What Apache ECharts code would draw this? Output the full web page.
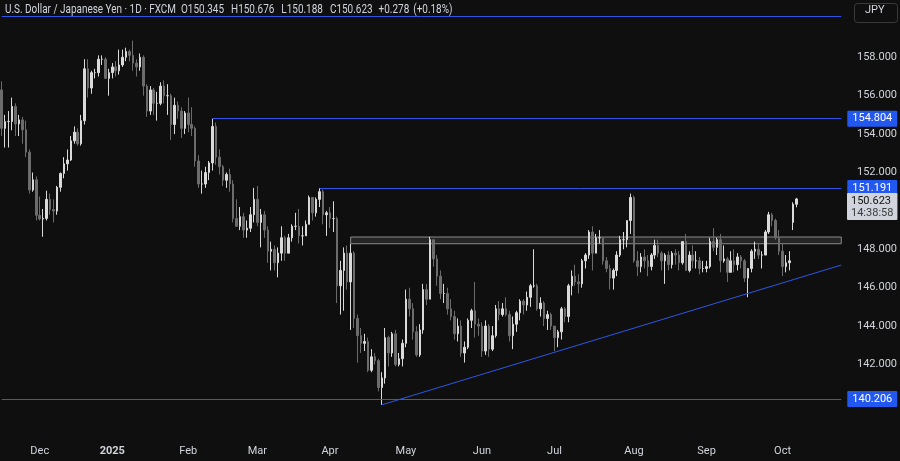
<!DOCTYPE html>
<html><head><meta charset="utf-8">
<script src="https://cdn.jsdelivr.net/npm/echarts@6/dist/echarts.min.js"></script>
<style>html,body{margin:0;padding:0;background:#0f0f0f;}#c{width:900px;height:461px;}</style>
</head><body><div id="c"></div>
<script>
// ---- data ----
const startDate = '2024-11-15';
const holidays = ['2024-12-25', '2025-01-01'];
const futureSlots = 13;
const monthNames = ['Jan','Feb','Mar','Apr','May','Jun','Jul','Aug','Sep','Oct','Nov','Dec'];
const priceTicks = [142, 144, 146, 148, 150, 152, 154, 156, 158];

const opens = [
 156.30,154.30,154.65,154.66,155.44,154.53,154.74,154.22,153.06,151.09,151.62,
 149.77,149.58,149.61,150.60,150.07,149.99,151.23,151.95,152.45,152.65,153.65,154.10,153.50,154.70,157.40,156.40,157.20,157.20,157.90,157.90,156.90,
 157.20,157.50,157.30,157.60,158.00,158.30,158.10,157.70,157.50,158.00,156.50,155.20,156.30,155.60,155.60,156.50,156.00,156.00,154.50,155.50,155.20,154.30,
 155.10,154.50,154.30,152.60,151.40,151.40,152.00,152.50,154.40,152.80,152.30,151.60,151.90,151.40,149.60,149.20,149.70,149.00,149.10,149.80,
 150.60,149.40,149.80,149.00,147.90,148.00,147.30,147.80,148.60,147.80,148.60,149.20,149.20,148.70,148.70,149.30,150.70,149.90,150.60,151.00,149.80,
 149.90,149.60,149.60,146.10,146.90,147.80,146.30,147.80,144.40,143.50,143.10,143.20,141.70,142.40,142.20,140.80,141.30,143.40,142.60,143.60,142.00,142.30,
 143.10,145.40,144.90,143.70,142.50,143.80,145.90,145.40,148.50,147.50,146.60,145.70,145.70,144.90,144.50,143.60,144.00,142.60,142.90,144.30,144.80,144.10,
 144.00,142.70,144.00,142.80,143.50,144.90,144.60,144.90,144.60,143.50,144.10,144.70,145.30,145.10,145.50,146.10,146.10,144.90,145.20,144.40,144.60,
 144.00,143.40,143.70,144.90,144.50,146.10,146.60,146.30,146.20,147.40,147.70,148.90,147.80,148.60,148.60,147.40,147.00,146.50,146.90,147.70,148.50,148.50,149.50,
 150.70,147.40,147.10,147.60,147.40,147.10,147.70,148.20,147.80,147.40,147.70,147.20,147.80,147.70,147.30,148.40,146.90,147.70,147.40,147.40,147.00,
 147.00,147.10,148.40,148.10,148.50,147.40,147.50,146.80,147.40,147.20,147.60,147.40,146.50,147.00,147.90,148.00,147.70,147.70,148.90,149.80,149.50,148.60,
 147.90,147.10,147.30,149.40,150.345
];
const highs = [
 156.75,155.00,155.20,155.90,155.60,155.00,154.90,154.70,153.20,152.00,151.80,
 150.75,150.10,151.05,150.90,150.60,151.30,152.00,152.80,153.20,153.90,154.40,154.30,155.00,157.90,157.90,157.30,157.40,158.10,158.10,158.00,157.40,
 157.70,157.80,158.40,158.40,158.50,158.40,158.87,157.90,158.20,158.10,156.60,156.50,156.40,156.20,156.70,156.80,156.60,156.10,155.90,155.70,155.40,155.20,
 155.90,155.40,154.40,152.90,152.10,152.30,152.60,154.80,154.60,153.20,152.40,152.00,152.20,151.60,150.60,150.20,149.90,149.50,150.20,151.20,
 151.30,150.10,150.00,149.20,148.40,148.20,148.10,149.20,148.70,148.80,149.30,149.90,150.10,149.20,149.50,150.80,150.70,150.70,151.19,151.10,150.00,
 150.20,150.50,149.70,147.40,148.10,148.20,148.28,147.90,144.60,143.90,143.60,143.40,142.80,142.60,142.30,141.60,143.90,143.50,143.70,143.80,142.60,143.30,
 145.90,146.00,145.20,144.00,144.10,146.20,146.20,148.65,148.50,147.70,146.90,146.20,146.00,145.40,144.80,144.40,144.30,143.20,144.40,144.90,146.30,144.40,
 144.20,144.30,144.10,144.00,145.10,145.30,145.20,145.50,144.80,144.50,144.80,145.40,145.40,145.80,146.20,148.00,146.20,145.50,145.30,144.80,144.70,
 144.00,143.80,145.00,145.00,146.20,146.90,147.20,146.70,147.50,147.80,149.00,149.20,148.80,149.00,148.60,147.60,147.20,147.00,147.90,148.70,148.90,149.50,150.90,
 150.80,147.90,147.80,148.00,147.70,147.80,148.50,148.50,147.90,147.80,147.90,147.90,148.00,147.90,148.40,148.80,147.90,148.20,147.90,147.60,147.40,
 147.40,148.60,149.10,148.60,148.80,148.20,147.60,147.90,148.00,147.80,147.70,147.50,147.00,148.00,148.40,148.30,147.90,149.00,149.95,149.90,149.60,149.00,
 148.30,147.70,147.90,150.45,150.676
];
const lows = [
 153.90,153.30,153.30,154.20,153.90,153.90,153.50,152.80,150.90,151.00,149.50,
 149.50,148.65,149.50,149.80,149.40,149.80,151.00,151.70,152.10,152.60,153.50,153.40,153.40,154.50,155.90,156.10,156.90,157.00,157.60,156.90,156.00,
 156.90,157.00,157.10,157.50,157.80,157.80,157.30,157.00,157.30,156.00,154.90,155.00,155.00,154.70,155.50,155.60,155.00,153.70,154.00,154.80,153.80,154.00,
 154.10,153.90,152.30,151.20,150.90,151.20,151.60,152.10,152.40,151.90,151.30,151.20,151.00,149.40,149.20,149.00,148.60,148.60,148.90,149.40,
 149.20,148.10,148.60,147.30,146.90,146.90,146.54,147.40,147.40,147.80,148.40,149.00,148.30,148.20,148.70,149.30,149.50,149.70,150.20,149.30,148.70,
 149.10,148.90,145.20,144.60,144.80,145.90,143.80,143.90,142.10,142.60,142.70,141.60,141.60,142.00,140.60,139.90,141.00,141.90,142.40,141.90,141.90,141.90,
 142.90,144.50,143.30,142.40,142.40,143.60,145.10,145.40,147.10,146.10,145.40,145.20,144.60,144.30,143.30,143.20,142.40,142.10,142.80,143.90,143.40,143.50,
 142.40,142.50,142.40,142.70,143.40,144.30,144.50,144.50,143.20,142.80,143.70,144.30,144.60,144.80,145.00,146.00,144.80,144.50,144.00,143.80,143.80,
 142.70,142.90,143.30,144.20,144.20,145.60,146.10,145.70,146.00,147.00,147.50,146.90,147.80,148.30,147.20,146.80,145.90,145.90,146.60,147.60,148.00,148.10,148.80,
 147.30,146.60,146.80,147.00,146.60,146.90,147.50,147.60,146.90,146.20,146.90,147.00,147.20,146.90,147.20,146.90,146.80,147.00,147.00,146.70,146.80,
 146.80,147.00,147.90,147.70,146.80,147.30,146.30,146.80,146.80,146.90,147.00,146.30,145.50,146.80,147.50,147.50,147.00,147.70,148.80,149.20,148.50,147.70,
 146.60,146.80,146.90,149.00,150.188
];
const closes = [
 154.30,154.65,154.66,155.44,154.53,154.74,154.22,153.06,151.09,151.62,149.77,
 149.58,149.61,150.60,150.07,149.99,151.23,151.95,152.45,152.65,153.65,154.10,153.50,154.70,157.40,156.40,157.20,157.20,157.90,157.90,156.90,157.20,
 157.50,157.30,157.60,158.00,158.30,158.10,157.70,157.50,158.00,156.50,155.20,156.30,155.60,155.60,156.50,156.00,156.00,154.50,155.50,155.20,154.30,155.10,
 154.50,154.30,152.60,151.40,151.40,152.00,152.50,154.40,152.80,152.30,151.60,151.90,151.40,149.60,149.20,149.70,149.00,149.10,149.80,150.60,
 149.40,149.80,149.00,147.90,148.00,147.30,147.80,148.60,147.80,148.60,149.20,149.20,148.70,148.70,149.30,150.70,149.90,150.60,151.00,149.80,149.90,
 149.60,149.60,146.10,146.90,147.80,146.30,147.80,144.40,143.50,143.10,143.20,141.70,142.40,142.20,140.80,141.30,143.40,142.60,143.60,142.00,142.30,143.10,
 145.40,144.90,143.70,142.50,143.80,145.90,145.40,148.50,147.50,146.60,145.70,145.70,144.90,144.50,143.60,144.00,142.60,142.90,144.30,144.80,144.10,144.00,
 142.70,144.00,142.80,143.50,144.90,144.60,144.90,144.60,143.50,144.10,144.70,145.30,145.10,145.50,146.10,146.10,144.90,145.20,144.40,144.60,144.00,
 143.40,143.70,144.90,144.50,146.10,146.60,146.30,146.20,147.40,147.70,148.90,147.80,148.60,148.60,147.40,147.00,146.50,146.90,147.70,148.50,148.50,149.50,150.70,
 147.40,147.10,147.60,147.40,147.10,147.70,148.20,147.80,147.40,147.70,147.20,147.80,147.70,147.30,148.40,146.90,147.70,147.40,147.40,147.00,147.00,
 147.10,148.40,148.10,148.50,147.40,147.50,146.80,147.40,147.20,147.60,147.40,146.50,147.00,147.90,148.00,147.70,147.70,148.90,149.80,149.50,148.60,147.90,
 147.10,147.30,147.40,150.35,150.623
];

// drawn levels
const topLevel = 160.14;
const levelHigh = 154.804, levelHighStart = '2025-02-12';
const levelMid = 151.191, levelMidStart = '2025-03-27';
const levelLow = 140.206;
const zoneTop = 148.64, zoneBottom = 148.29, zoneStart = '2025-04-09';
const trendStart = ['2025-04-22', 139.90], trendEndPrice = 147.18;
const lastPrice = 150.623, countdown = '14:38:58';
const titleText = 'U.S. Dollar / Japanese Yen · 1D · FXCM';
const headerValues = ['O150.345', 'H150.676', 'L150.188', 'C150.623', '+0.278', '(+0.18%)'];

// ---- build ----
function tradingDays(start, n, skip) {
  const out = []; const d = new Date(start + 'T00:00:00Z');
  while (out.length < n) {
    const w = d.getUTCDay(); const s = d.toISOString().slice(0, 10);
    if (w !== 0 && w !== 6 && skip.indexOf(s) < 0) out.push(s);
    d.setUTCDate(d.getUTCDate() + 1);
  }
  return out;
}
const categories = tradingDays(startDate, opens.length + futureSlots, holidays);
const firstCat = categories[0];
const lastCat = categories[categories.length - 1];
const candles = opens.map((o, i) => [o, closes[i], lows[i], highs[i]]);

const FONT = 'Roboto, "Liberation Sans", sans-serif';
const mctx = document.createElement('canvas').getContext('2d');
function hasFont(name) {
  mctx.font = '40px monospace'; const a = mctx.measureText('158.000 Dec Mar').width;
  mctx.font = '40px "' + name + '", monospace'; const b = mctx.measureText('158.000 Dec Mar').width;
  return Math.abs(a - b) > 0.5;
}
const narrowOK = hasFont('Liberation Sans Narrow');
const AXIS_FONT = narrowOK ? '"Liberation Sans Narrow", Roboto, sans-serif' : FONT;
const AXIS_SIZE = narrowOK ? 12 : 11;

const BLUE_LINE = '#2d56e6';
const BLUE_LABEL = '#2358f0';
const blueLine = { color: BLUE_LINE, width: 1, type: 'solid', opacity: 1 };
const axisLabelStyle = (txt) => ({
  show: true, position: 'end', distance: 6, formatter: txt,
  color: '#ffffff', backgroundColor: BLUE_LABEL, padding: [3, 5, 2, 5],
  fontSize: AXIS_SIZE, fontFamily: AXIS_FONT, borderRadius: 1
});

// header: 13px text, horizontally compressed to the reference widths, laid out left to right
const HEADER_FONT = '13px ' + FONT;
mctx.font = HEADER_FONT;
const headerScale = 171 / mctx.measureText(titleText).width;
const headerGaps = [5, 7, 7, 7, 6, 4];
const headerGraphics = [{ type: 'text', x: 5, y: 3, scaleX: headerScale, style: { text: titleText, fill: '#d1d4dc', font: HEADER_FONT } }];
let hx = 5 + mctx.measureText(titleText).width * headerScale;
headerValues.forEach((t, i) => {
  hx += headerGaps[i];
  headerGraphics.push({ type: 'text', x: hx, y: 3, scaleX: headerScale, style: { text: t, fill: '#d1d4dc', font: HEADER_FONT } });
  hx += mctx.measureText(t).width * headerScale;
});

const chart = echarts.init(document.getElementById('c'), null, { renderer: 'canvas' });
chart.setOption({
  backgroundColor: '#0f0f0f',
  animation: false,
  grid: { left: -2, right: 55, top: 0, bottom: 28 },
  xAxis: {
    type: 'category', data: categories, boundaryGap: true,
    axisLine: { show: false }, axisTick: { show: false }, splitLine: { show: false },
    axisLabel: {
      color: '#d1d4dc', fontSize: AXIS_SIZE, fontFamily: AXIS_FONT, margin: 13,
      interval: (i, v) => i > 0 && v.slice(0, 7) !== categories[i - 1].slice(0, 7),
      formatter: (v) => { const m = +v.slice(5, 7); return m === 1 ? '{y|' + v.slice(0, 4) + '}' : monthNames[m - 1]; },
      rich: { y: { fontWeight: 'bold', color: '#d1d4dc', fontSize: AXIS_SIZE, fontFamily: AXIS_FONT } }
    }
  },
  yAxis: {
    type: 'value', position: 'right', min: 138.432, max: 160.984,
    splitLine: { show: false }, axisLine: { show: false }, axisTick: { show: false },
    axisLabel: { customValues: priceTicks, formatter: (v) => v.toFixed(3), color: '#d1d4dc', fontSize: AXIS_SIZE, fontFamily: AXIS_FONT, margin: 14 }
  },
  series: [{
    type: 'candlestick', data: candles, barWidth: 2,
    itemStyle: { color: '#dadada', color0: '#6c6c6c', borderColor: '#dadada', borderColor0: '#6c6c6c', borderWidth: 1 },
    markArea: {
      silent: true,
      itemStyle: { color: 'rgba(120,120,120,0.22)', borderColor: '#8a8a8a', borderWidth: 1 },
      data: [[{ coord: [zoneStart, zoneTop] }, { coord: [lastCat, zoneBottom] }]]
    },
    markLine: {
      silent: true, symbol: ['none', 'none'], animation: false,
      lineStyle: blueLine,
      data: [
        [{ coord: [firstCat, topLevel], lineStyle: blueLine, label: { show: false } }, { coord: [lastCat, topLevel] }],
        [{ coord: [levelHighStart, levelHigh], lineStyle: blueLine, label: axisLabelStyle(levelHigh.toFixed(3)) }, { coord: [lastCat, levelHigh] }],
        [{ coord: [levelMidStart, levelMid], lineStyle: blueLine, label: axisLabelStyle(levelMid.toFixed(3)) }, { coord: [lastCat, levelMid] }],
        [{ coord: [firstCat, levelLow], lineStyle: blueLine, label: axisLabelStyle(levelLow.toFixed(3)) }, { coord: [lastCat, levelLow] }],
        [{ coord: trendStart, lineStyle: blueLine, label: { show: false } }, { coord: [lastCat, trendEndPrice] }],
        { yAxis: lastPrice, lineStyle: { color: 'rgba(0,0,0,0)', width: 1, opacity: 1 },
          label: { show: true, position: 'end', distance: 4, verticalAlign: 'top', offset: [0, -6],
            formatter: '{a|' + lastPrice.toFixed(3) + '}\n{b|' + countdown + '}',
            backgroundColor: '#d1d4dc', padding: [2, 4, 1, 4], borderRadius: 1,
            rich: { a: { color: '#131313', fontSize: AXIS_SIZE, fontFamily: AXIS_FONT, lineHeight: 12 },
                    b: { color: '#3a3a3a', fontSize: AXIS_SIZE, fontFamily: AXIS_FONT, lineHeight: 12 } } } }
      ]
    }
  }],
  graphic: headerGraphics.concat([
    { type: 'rect', left: 852, top: 1, shape: { width: 43, height: 19, r: 3 }, style: { fill: 'none', stroke: '#3a3a3a', lineWidth: 1 } },
    { type: 'text', left: 865, top: 5, style: { text: 'JPY', fill: '#d1d4dc', font: '11px ' + FONT } }
  ])
});
</script></body></html>
